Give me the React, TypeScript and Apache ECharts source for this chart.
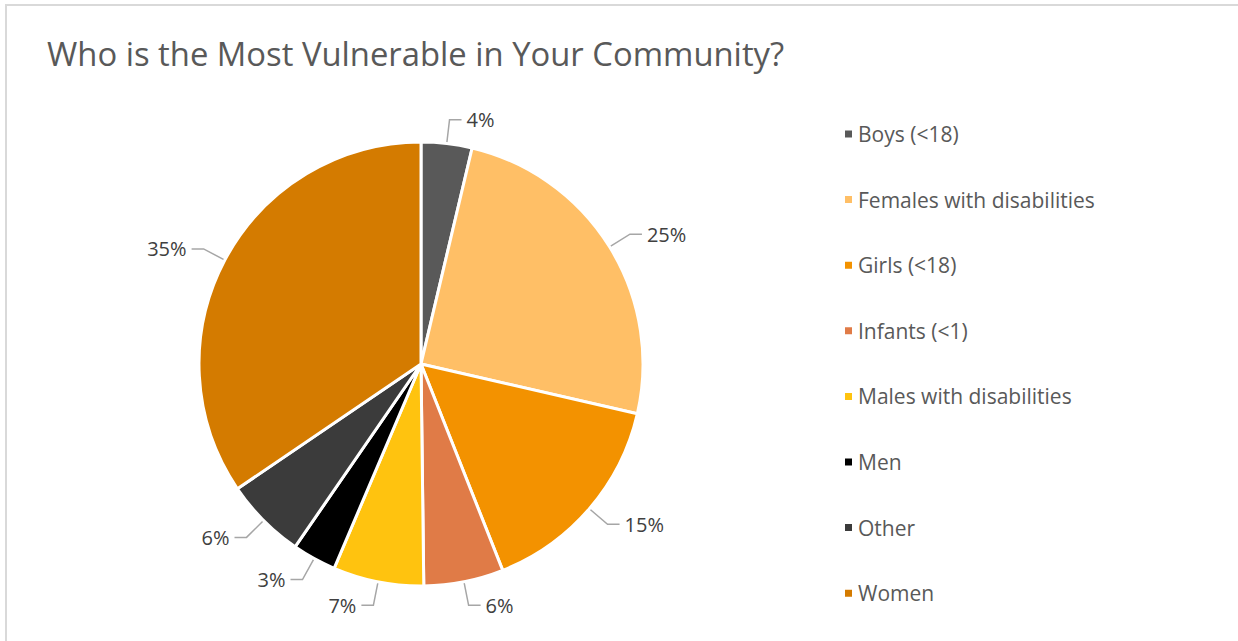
import React, { useEffect, useRef } from "react";
import * as echarts from "echarts";

const categories = [
  "Boys (<18)",
  "Females with disabilities",
  "Girls (<18)",
  "Infants (<1)",
  "Males with disabilities",
  "Men",
  "Other",
  "Women",
];
const values = [3.7, 24.9, 15.4, 5.8, 6.6, 3.2, 5.9, 34.5];
const colors = ["#595959", "#FFBF66", "#F39200", "#E07B47", "#FFC30F", "#000000", "#3B3B3B", "#D47B00"];
const title = "Who is the Most Vulnerable in Your Community?";

export default function App() {
  const ref = useRef<HTMLDivElement>(null);
  useEffect(() => {
    const chart = echarts.init(ref.current!, null, { renderer: "svg" });
    chart.setOption({
      animation: false,
      backgroundColor: "#ffffff",
      title: {
        text: title,
        left: 42,
        top: 32,
        textStyle: { fontFamily: "Open Sans", fontSize: 32.8, fontWeight: "normal", color: "#595959" },
      },
      graphic: [
        {
          type: "rect",
          shape: { x: 6, y: 5, width: 1400, height: 800 },
          style: { fill: "none", stroke: "#d9d9d9", lineWidth: 2 },
          silent: true,
        },
      ],
      legend: {
        orient: "vertical",
        left: 838,
        top: 117,
        icon: "rect",
        itemWidth: 9,
        itemHeight: 9,
        itemGap: 41.6,
        textStyle: { fontFamily: "Open Sans", fontSize: 21, color: "#595959", lineHeight: 24 },
        data: categories,
      },
      series: [
        {
          type: "pie",
          center: [421, 364],
          radius: [0, 222],
          startAngle: 90,
          clockwise: true,
          avoidLabelOverlap: true,
          itemStyle: { borderColor: "#ffffff", borderWidth: 3 },
          label: {
            show: true,
            position: "outside",
            formatter: (p: any) => Math.round(p.value) + "%",
            fontFamily: "Open Sans",
            fontSize: 20,
            color: "#404040",
          },
          labelLine: {
            show: true,
            length: 24,
            length2: 12,
            lineStyle: { color: "#A6A6A6", width: 1.5 },
          },
          data: categories.map((c, i) => ({ name: c, value: values[i], itemStyle: { color: colors[i] } })),
        },
      ],
    });
    return () => chart.dispose();
  }, []);
  return (
    <div
      ref={ref}
      style={{ position: "fixed", left: 0, top: 0, width: 1238, height: 641 }}
    />
  );
}
